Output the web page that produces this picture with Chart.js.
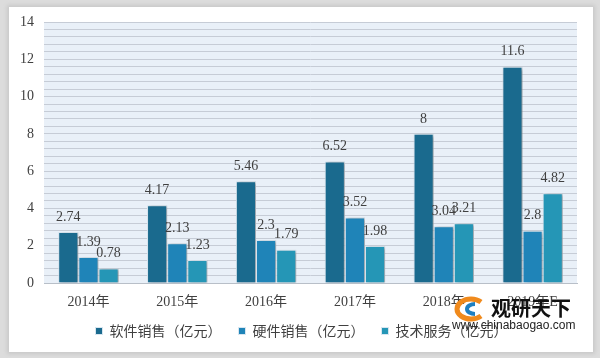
<!DOCTYPE html>
<html>

<head>
    <meta charset="utf-8">
    <style>
        body {
            margin: 0;
            width: 600px;
            height: 358px;
            background-color: #dcdcdc;
            overflow: hidden;
            position: relative;
            font-family: "Noto Sans CJK SC", sans-serif;
        }

        .card {
            position: absolute;
            left: 9px;
            top: 7px;
            width: 584px;
            height: 345px;
            background-color: #fff;
            box-shadow: 0 0 4px 2px #c8c8c8;
        }

        #wrap {
            position: absolute;
            left: 0;
            top: 0;
            width: 600px;
            height: 358px;
        }

        .mark {
            position: absolute;
            left: 449px;
            top: 294px;
            width: 130px;
            height: 50px;
        }

        .mark .name {
            position: absolute;
            left: 42px;
            top: -1px;
            font-size: 20px;
            line-height: 30px;
            font-weight: bold;
            color: #111;
        }

        .mark .url {
            position: absolute;
            left: 3px;
            top: 23px;
            font-family: "Liberation Sans", sans-serif;
            font-size: 12px;
            line-height: 17px;
            color: #222;
        }
    </style>
    <script src="https://cdn.jsdelivr.net/npm/chart.js"></script>
</head>

<body>
    <div class="card"></div>
    <div id="wrap"><canvas id="myChart1" width="600" height="358"></canvas></div>
    <div class="mark">
        <svg width="36" height="26" style="position:absolute;left:2px;top:2px">
            <path d="M30 6 A14 10 0 1 0 30 20" fill="none" stroke="#f08a1c" stroke-width="5" />
            <path d="M24 8 A8 5 0 1 0 24 18" fill="none" stroke="#1f7fc0" stroke-width="4" />
        </svg>
        <span class="name">观研天下</span>
        <span class="url">www.chinabaogao.com</span>
    </div>

    <script>
        // chart data
        const years = ['2014年', '2015年', '2016年', '2017年', '2018年', '2019年E'];
        const softwareSales = [2.74, 4.17, 5.46, 6.52, 8, 11.6];
        const hardwareSales = [1.39, 2.13, 2.3, 3.52, 3.04, 2.8];
        const techService = [0.78, 1.23, 1.79, 1.98, 3.21, 4.82];
        const seriesNames = ['软件销售（亿元）', '硬件销售（亿元）', '技术服务（亿元）'];

        const serif = '"Liberation Serif", "Noto Sans CJK SC", serif';

        // light blue plot background
        const plotBg = {
            id: 'plotBg',
            beforeDraw(chart) {
                const { ctx, chartArea } = chart;
                ctx.save();
                ctx.fillStyle = '#e9f0f8';
                ctx.fillRect(chartArea.left, chartArea.top, chartArea.right - chartArea.left, chartArea.bottom - chartArea.top);
                ctx.restore();
            }
        };

        // nudge the legend to where it sits in the original
        const legendNudge = {
            id: 'legendNudge',
            afterLayout(chart) {
                const lg = chart.legend;
                lg.left += 13; lg.right += 13;
                lg.top -= 10; lg.bottom -= 10;
            }
        };

        // bar shadows + value labels
        const barExtras = {
            id: 'barExtras',
            beforeDatasetsDraw(chart) {
                const ctx = chart.ctx;
                ctx.save();
                ctx.shadowColor = 'rgba(0,0,0,0.35)';
                ctx.shadowBlur = 3;
                ctx.shadowOffsetX = 2;
                ctx.shadowOffsetY = 1;
            },
            afterDatasetsDraw(chart) {
                const ctx = chart.ctx;
                ctx.restore();
                ctx.save();
                ctx.font = '14px ' + serif;
                ctx.fillStyle = '#404040';
                ctx.textAlign = 'center';
                ctx.textBaseline = 'middle';
                chart.data.datasets.forEach((ds, i) => {
                    chart.getDatasetMeta(i).data.forEach((bar, j) => {
                        ctx.fillText(String(ds.data[j]), bar.x, bar.y - 15);
                    });
                });
                ctx.restore();
            }
        };

        const data1 = {
            labels: years,
            datasets: [{
                label: seriesNames[0],
                data: softwareSales,
                backgroundColor: '#1a6a8e',
                borderColor: '#d8e6f0',
                borderWidth: 1
            }, {
                label: seriesNames[1],
                data: hardwareSales,
                backgroundColor: '#1f84b8',
                borderColor: '#d8e6f0',
                borderWidth: 1
            }, {
                label: seriesNames[2],
                data: techService,
                backgroundColor: '#2596b6',
                borderColor: '#d8e6f0',
                borderWidth: 1
            }]
        };

        const config1 = {
            type: 'bar',
            data: data1,
            plugins: [plotBg, legendNudge, barExtras],
            options: {
                responsive: false,
                animation: false,
                layout: {
                    padding: { left: 0, right: 23, top: 22, bottom: 0 }
                },
                datasets: {
                    bar: {
                        barPercentage: 1,
                        categoryPercentage: 0.68
                    }
                },
                plugins: {
                    tooltip: { enabled: false },
                    legend: {
                        position: 'bottom',
                        labels: {
                            usePointStyle: true,
                            pointStyle: 'rect',
                            boxWidth: 7,
                            boxHeight: 7,
                            padding: 17,
                            color: '#404040',
                            font: { size: 14, family: '"Noto Sans CJK SC", sans-serif' }
                        }
                    }
                },
                scales: {
                    x: {
                        grid: { display: false },
                        border: { color: '#b8bfc8' },
                        ticks: {
                            color: '#404040',
                            padding: 3,
                            font: { size: 14, family: serif }
                        },
                        afterFit(scale) { scale.height = 34; }
                    },
                    y: {
                        min: 0,
                        max: 14,
                        grid: { color: '#c6ccd6', drawTicks: false },
                        border: { display: false },
                        ticks: {
                            stepSize: 0.4,
                            autoSkip: false,
                            color: '#404040',
                            padding: 10,
                            font: { size: 14, family: serif },
                            callback(v) {
                                const r = Math.round(v);
                                return (Math.abs(v - r) < 1e-6 && r % 2 === 0) ? String(r) : '';
                            }
                        },
                        afterFit(scale) { scale.width = 44; }
                    }
                }
            }
        };

        const visual1 = new Chart(document.getElementById('myChart1'), config1);
    </script>
</body>

</html>
